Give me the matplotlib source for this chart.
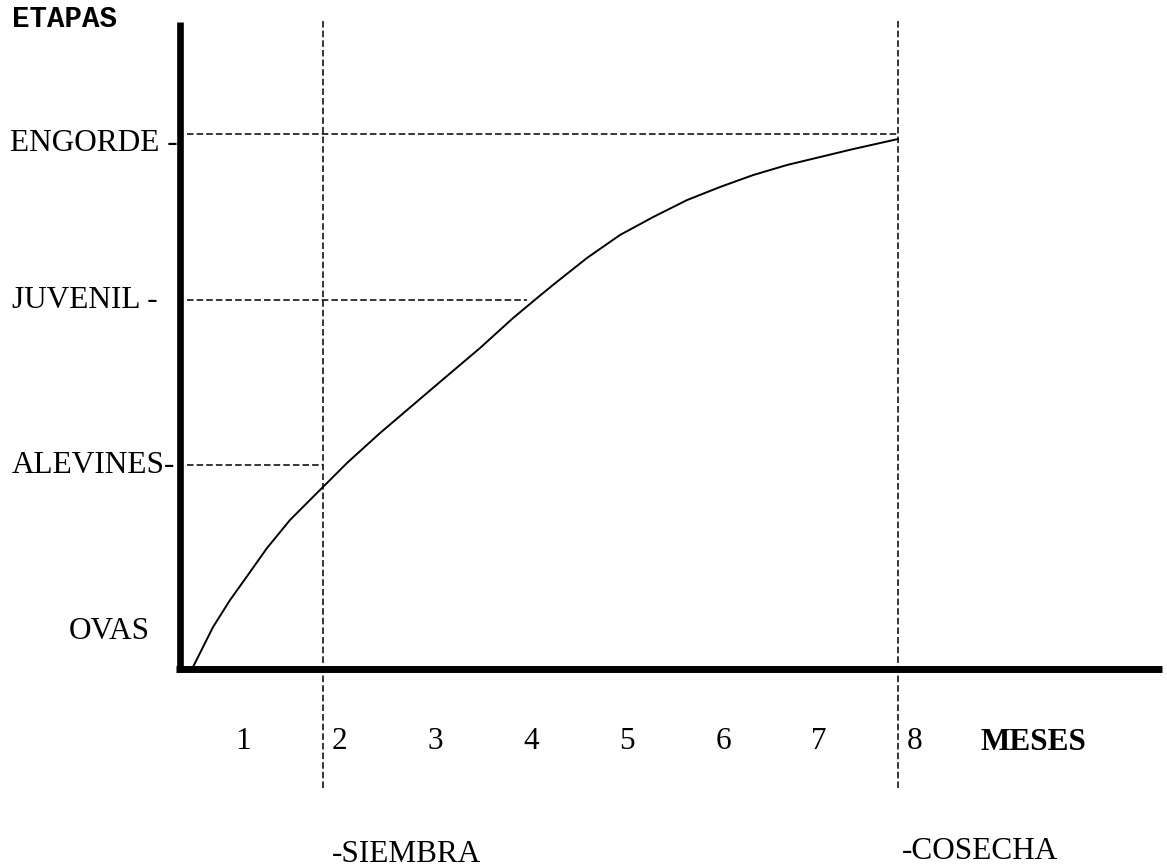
import numpy as np
import matplotlib
matplotlib.use('Agg')
import matplotlib.pyplot as plt

# etapas (y) y meses (x)
stage_names = ['OVAS', 'ALEVINES-', 'JUVENIL -', 'ENGORDE -']
stage_levels = [-0.05, 0.95, 1.95, 2.90]
stage_label_x = [-0.82, -1.41, -1.41, -1.43]

month_labels = ['1', '2', '3', '4', '5', '6', '7', '8']
month_pos = [1, 2, 3, 4, 5, 6, 7, 8]

siembra_x = 1.83
cosecha_x = 7.82

# curva de crecimiento
curve_x = [0.479, 0.688, 0.865, 1.073, 1.250, 1.490, 1.729, 1.833, 2.083, 2.427,
           2.771, 3.125, 3.469, 3.813, 4.063, 4.229, 4.583, 4.927, 5.271, 5.625,
           5.969, 6.313, 6.667, 7.010, 7.354, 7.823]
curve_y = [-0.221, 0.021, 0.184, 0.353, 0.498, 0.668, 0.807, 0.867, 1.012, 1.193,
           1.363, 1.538, 1.707, 1.888, 2.009, 2.088, 2.251, 2.390, 2.498, 2.601,
           2.680, 2.752, 2.813, 2.861, 2.909, 2.970]

# lineas guia horizontales: nivel y hasta donde llegan
guide_y = [1.0, 2.0, 3.0]
guide_end = [siembra_x, 3.96, cosecha_x]

fig = plt.figure(figsize=(11.67, 8.68), dpi=100)
ax = fig.add_axes([0, 0, 1, 1])
ax.set_xlim(-1.531, 10.625)
ax.set_ylim(-1.435, 3.810)
ax.axis('off')

serif = 'Liberation Serif'
fs = 22.5
dash = (0, (4.3, 2.0))

# ejes gruesos
ax.plot([0.34, 0.34], [-0.25, 3.68], color='black', lw=4.8, solid_capstyle='butt')
ax.plot([0.30, 10.57], [-0.232, -0.232], color='black', lw=5.0, solid_capstyle='butt')

# guias punteadas
for gy, ge in zip(guide_y, guide_end):
    ax.plot([0.42, ge], [gy, gy], color='black', lw=1.1, linestyle=dash)
for vx in [siembra_x, cosecha_x]:
    ax.plot([vx, vx], [-0.95, 3.69], color='black', lw=1.1, linestyle=dash)

# curva
ax.plot(curve_x, curve_y, color='black', lw=1.4, solid_joinstyle='round')

# textos
ax.text(-1.41, 3.646, 'ETAPAS', family='Liberation Mono', weight='bold', fontsize=21,
        ha='left', va='baseline')
for name, lv, lx in zip(stage_names, stage_levels, stage_label_x):
    ax.text(lx, lv, name, family=serif, fontsize=fs, ha='left', va='baseline')
for lab, mx in zip(month_labels, month_pos):
    ax.text(mx, -0.716, lab, family=serif, fontsize=fs, ha='center', va='baseline')
ax.text(8.68, -0.722, 'MESES', family=serif, weight='bold', fontsize=fs, ha='left', va='baseline')
ax.text(1.927, -1.399, '-SIEMBRA', family=serif, fontsize=fs, ha='left', va='baseline')
ax.text(7.865, -1.381, '-COSECHA', family=serif, fontsize=fs, ha='left', va='baseline')

fig.savefig('out.png', dpi=100)
